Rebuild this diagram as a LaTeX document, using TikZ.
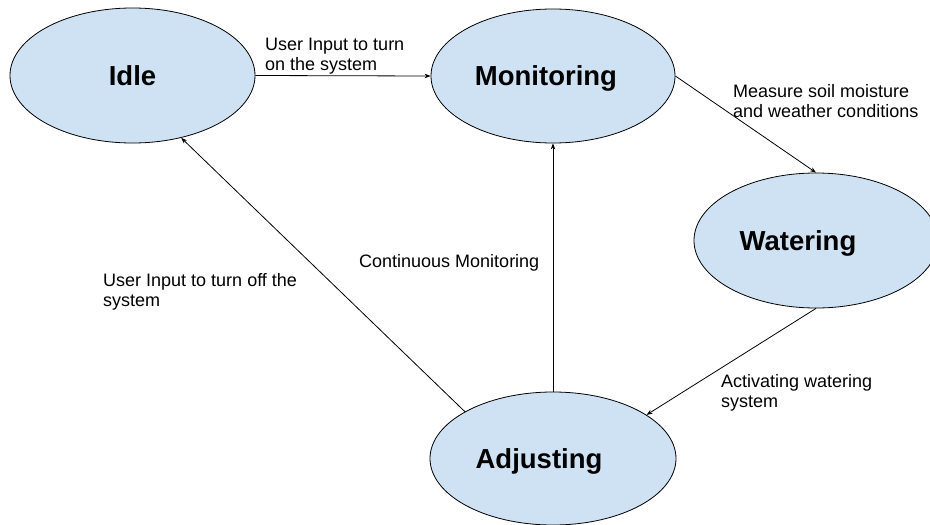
\documentclass[tikz,border=0pt]{standalone}
\usepackage{fontspec}
\setmainfont{Liberation Sans}
\usetikzlibrary{shapes.geometric,arrows.meta}
\definecolor{stfill}{HTML}{CFE2F3}
\begin{document}
\begin{tikzpicture}[x=1pt,y=-1pt,
  state/.style={ellipse,draw=black,line width=0.8pt,fill=stfill,inner sep=0pt,
    font=\fontsize{27.5}{30}\selectfont\bfseries,text height=19.7pt,text depth=0pt},
  lbl/.style={anchor=north west,inner sep=0pt,align=left,font=\fontsize{18}{20}\selectfont},
  arr/.style={draw=black,line width=0.8pt,-{Stealth[length=6pt,width=4.5pt]}}]
\useasboundingbox (0,0) rectangle (930,525);
\node[state,minimum width=245pt,minimum height=135pt] (idle) at (132.5,75.5) {Idle};
\node[state,minimum width=244pt,minimum height=134pt] (mon) at (553,76) {Monitoring\kern14pt};
\node[state,minimum width=244pt,minimum height=135pt] (wat) at (816,240.5) {Watering\kern36pt};
\node[state,minimum width=246pt,minimum height=133pt] (adj) at (553,458.5) {Adjusting\kern28pt};

\draw[arr] (idle.east) -- (mon.west);
\draw[arr] (mon.east) -- (wat.north);
\draw[arr] (wat.south) -- (adj.25);
\draw[arr] (adj.north) -- (mon.south);
\draw[arr] (adj.152) -- (idle.308);

\node[lbl] (l1) at (265,38) {User Input to turn\\on the system};
\node[lbl] (l2) at (733,84) {Measure soil moisture\\and weather conditions};
\node[lbl] (l3) at (359,254) {Continuous Monitoring};
\node[lbl] (l4) at (103,273) {User Input to turn off the\\system};
\node[lbl] (l5) at (721,374) {Activating watering\\system};
\end{tikzpicture}
\end{document}
